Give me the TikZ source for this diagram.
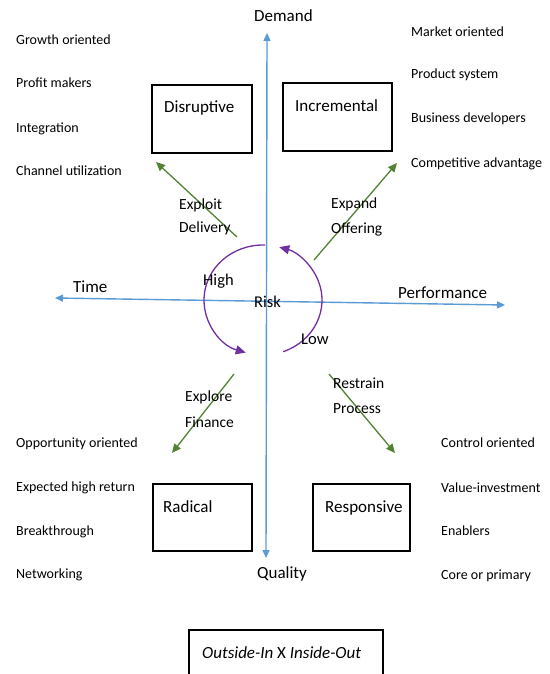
\documentclass[tikz,border=0pt]{standalone}
\usepackage{fontspec}
\setmainfont{Carlito}
\usetikzlibrary{arrows.meta,calc}

\definecolor{axisblue}{RGB}{91,155,213}
\definecolor{movegreen}{RGB}{84,130,53}
\definecolor{riskpurple}{RGB}{112,48,160}

\begin{document}
\begin{tikzpicture}[x=1pt,y=-1pt,
	every node/.style={inner sep=0pt},
	axis/.style={axisblue,line width=1.4pt,{Triangle[length=8pt,width=7pt]}-{Triangle[length=8pt,width=7pt]}},
	move/.style={movegreen,line width=1.3pt,-{Triangle[length=9pt,width=8pt]}},
	turn/.style={riskpurple,line width=1.3pt,-{Triangle[length=10pt,width=9pt]}},
	quad/.style={draw,line width=1.2pt},
	big/.style={anchor=base west,font=\fontsize{17}{20}\selectfont},
	mid/.style={anchor=base west,font=\fontsize{16.5}{19}\selectfont},
	tag/.style={anchor=base west,font=\fontsize{15.5}{18}\selectfont},
	item/.style={anchor=base west,font=\fontsize{14}{17}\selectfont}]

	\path[use as bounding box,fill=white] (0,0) rectangle (549,674);

	\coordinate (north) at (267,33);
	\coordinate (south) at (266,558);
	\coordinate (west) at (55,298);
	\coordinate (east) at (505,305);
	\draw[axis] (north) -- (south);
	\draw[axis] (west) -- (east);

	\node[big] (demand) at (254,22) {Demand};
	\node[big] (quality) at (257,578) {Quality};
	\node[big] (time) at (73,292) {Time};
	\node[big] (perf) at (398,298) {Performance};

	\node[quad,minimum width=100pt,minimum height=68pt] (disr) at (202,119) {};
	\node[quad,minimum width=109pt,minimum height=68pt] (incr) at (337.5,117) {};
	\node[quad,minimum width=99pt,minimum height=67pt] (radi) at (202.5,517.5) {};
	\node[quad,minimum width=97pt,minimum height=67pt] (resp) at (361.5,517.5) {};
	\node[quad,minimum width=194pt,minimum height=60pt] (frame) at (286,660) {};
	\node[big] (disrtext) at (164,113) {Disruptive};
	\node[big] (incrtext) at (295,112) {Incremental};
	\node[big] (raditext) at (163,512) {Radical};
	\node[big] (resptext) at (325,512) {Responsive};
	\node[big] (frametext) at (202,658) {\textit{Outside-In} X \textit{Inside-Out}};

	\coordinate (centre) at (263,300);
	\draw[turn] ($(centre)+(272:59 and 55)$) arc[start angle=272,end angle=107,x radius=59,y radius=55];
	\draw[turn] ($(centre)+(70:59 and 55)$) arc[start angle=70,end angle=-74,x radius=59,y radius=55];
	\node[mid] (high) at (203,285) {High};
	\node[mid] (risk) at (254,307) {Risk};
	\node[mid] (low) at (301,344) {Low};

	\coordinate (exploitfrom) at (237,237);
	\coordinate (exploitto) at (156,162);
	\coordinate (expandfrom) at (314,260);
	\coordinate (expandto) at (397,163);
	\coordinate (explorefrom) at (234,374);
	\coordinate (exploreto) at (172,453);
	\coordinate (restrainfrom) at (329,374);
	\coordinate (restrainto) at (395,453);
	\draw[move] (exploitfrom) -- (exploitto);
	\draw[move] (expandfrom) -- (expandto);
	\draw[move] (explorefrom) -- (exploreto);
	\draw[move] (restrainfrom) -- (restrainto);
	\node[tag] (exploit) at (179,209) {Exploit};
	\node[tag] (delivery) at (179,232) {Delivery};
	\node[tag] (expand) at (331,208) {Expand};
	\node[tag] (offering) at (331,233) {Offering};
	\node[tag] (explore) at (185,401) {Explore};
	\node[tag] (finance) at (185,427) {Finance};
	\node[tag] (restrain) at (333,388) {Restrain};
	\node[tag] (process) at (333,413) {Process};

	\node[item] (growth) at (16,45) {Growth oriented};
	\node[item] (profit) at (16,88) {Profit makers};
	\node[item] (integr) at (16,132) {Integration};
	\node[item] (channel) at (16,175) {Channel utilization};
	\node[item] (market) at (411,37) {Market oriented};
	\node[item] (product) at (411,79) {Product system};
	\node[item] (business) at (411,123) {Business developers};
	\node[item] (compet) at (411,167) {Competitive advantage};
	\node[item] (opport) at (16,447) {Opportunity oriented};
	\node[item] (expected) at (16,491) {Expected high return};
	\node[item] (breakth) at (16,535) {Breakthrough};
	\node[item] (network) at (16,578) {Networking};
	\node[item] (control) at (441,447) {Control oriented};
	\node[item] (value) at (441,492) {Value-investment};
	\node[item] (enablers) at (441,535) {Enablers};
	\node[item] (core) at (441,579) {Core or primary};
\end{tikzpicture}
\end{document}
